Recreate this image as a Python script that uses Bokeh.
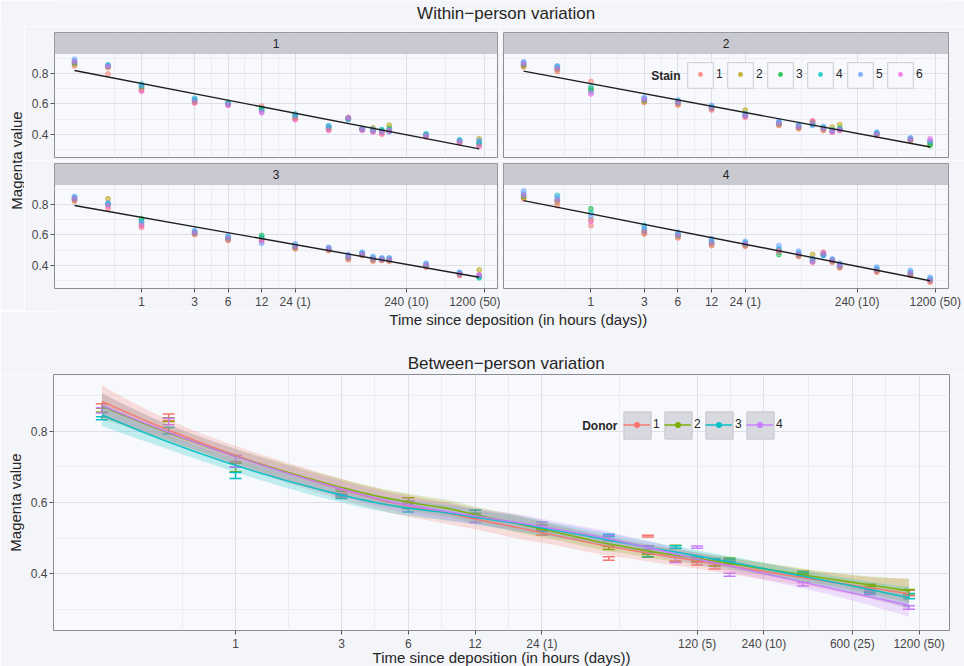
import numpy as np
from bokeh.plotting import figure
from bokeh.layouts import column, row
from bokeh.models import (Range1d, FixedTicker, Label, BoxAnnotation, Legend,
                          LegendItem, ColumnDataSource, Whisker, TeeHead, Grid)
from bokeh.embed import file_html
from bokeh.resources import INLINE
from bokeh.core.properties import value

# ---------------- data ----------------
hours = [0.25, 0.5, 1, 3, 6, 12, 24, 48, 72, 96, 120, 144, 168, 360, 720, 1080]
stains = ["1", "2", "3", "4", "5", "6"]
donors = ["1", "2", "3", "4"]

# rows: time points (hours), columns: stains 1..6
donor1 = [
    [0.850, 0.862, 0.870, 0.880, 0.893, 0.875],
    [0.797, 0.840, 0.848, 0.857, 0.852, 0.845],
    [0.690, 0.700, 0.715, 0.730, 0.722, 0.684],
    [0.606, 0.615, 0.624, 0.637, 0.630, 0.610],
    [0.592, 0.600, 0.605, 0.610, 0.598, 0.594],
    [0.586, 0.560, 0.572, 0.565, 0.550, 0.542],
    [0.500, 0.510, 0.520, 0.535, 0.525, 0.498],
    [0.430, 0.440, 0.448, 0.458, 0.452, 0.428],
    [0.512, 0.505, 0.500, 0.508, 0.498, 0.510],
    [0.428, 0.440, 0.435, 0.438, 0.432, 0.430],
    [0.420, 0.443, 0.430, 0.425, 0.435, 0.416],
    [0.402, 0.415, 0.425, 0.432, 0.420, 0.410],
    [0.425, 0.460, 0.440, 0.418, 0.430, 0.422],
    [0.385, 0.392, 0.398, 0.404, 0.395, 0.388],
    [0.345, 0.352, 0.358, 0.365, 0.360, 0.348],
    [0.330, 0.372, 0.340, 0.350, 0.360, 0.322],
]
donor2 = [
    [0.843, 0.850, 0.858, 0.870, 0.876, 0.862],
    [0.813, 0.825, 0.835, 0.845, 0.850, 0.830],
    [0.748, 0.700, 0.690, 0.712, 0.675, 0.665],
    [0.610, 0.618, 0.625, 0.635, 0.643, 0.628],
    [0.593, 0.600, 0.610, 0.618, 0.626, 0.605],
    [0.560, 0.568, 0.575, 0.582, 0.590, 0.570],
    [0.513, 0.560, 0.525, 0.535, 0.530, 0.518],
    [0.459, 0.465, 0.472, 0.480, 0.487, 0.470],
    [0.437, 0.443, 0.450, 0.458, 0.465, 0.448],
    [0.490, 0.480, 0.472, 0.465, 0.460, 0.485],
    [0.426, 0.432, 0.440, 0.445, 0.452, 0.436],
    [0.415, 0.448, 0.425, 0.430, 0.420, 0.418],
    [0.426, 0.465, 0.440, 0.436, 0.432, 0.430],
    [0.393, 0.400, 0.405, 0.410, 0.415, 0.398],
    [0.357, 0.362, 0.367, 0.372, 0.378, 0.365],
    [0.345, 0.338, 0.328, 0.350, 0.360, 0.372],
]
donor3 = [
    [0.822, 0.830, 0.838, 0.845, 0.852, 0.835],
    [0.772, 0.837, 0.800, 0.805, 0.810, 0.790],
    [0.650, 0.670, 0.706, 0.690, 0.680, 0.660],
    [0.603, 0.608, 0.615, 0.622, 0.630, 0.612],
    [0.564, 0.570, 0.578, 0.585, 0.597, 0.575],
    [0.560, 0.575, 0.597, 0.585, 0.546, 0.565],
    [0.509, 0.515, 0.522, 0.530, 0.542, 0.520],
    [0.498, 0.502, 0.508, 0.512, 0.520, 0.505],
    [0.437, 0.445, 0.452, 0.460, 0.472, 0.450],
    [0.465, 0.470, 0.475, 0.480, 0.487, 0.472],
    [0.428, 0.435, 0.442, 0.450, 0.459, 0.440],
    [0.432, 0.436, 0.440, 0.444, 0.450, 0.438],
    [0.428, 0.432, 0.438, 0.444, 0.450, 0.436],
    [0.389, 0.395, 0.400, 0.406, 0.415, 0.398],
    [0.334, 0.340, 0.345, 0.350, 0.356, 0.342],
    [0.330, 0.371, 0.325, 0.319, 0.335, 0.340],
]
donor4 = [
    [0.837, 0.845, 0.855, 0.868, 0.888, 0.860],
    [0.793, 0.815, 0.830, 0.859, 0.845, 0.825],
    [0.662, 0.700, 0.772, 0.745, 0.725, 0.690],
    [0.607, 0.615, 0.630, 0.662, 0.645, 0.620],
    [0.581, 0.590, 0.598, 0.605, 0.618, 0.595],
    [0.530, 0.540, 0.550, 0.560, 0.575, 0.545],
    [0.526, 0.532, 0.540, 0.548, 0.557, 0.538],
    [0.490, 0.500, 0.472, 0.510, 0.530, 0.495],
    [0.459, 0.465, 0.472, 0.480, 0.494, 0.470],
    [0.421, 0.472, 0.440, 0.430, 0.445, 0.425],
    [0.487, 0.475, 0.470, 0.468, 0.465, 0.482],
    [0.421, 0.426, 0.432, 0.437, 0.443, 0.430],
    [0.384, 0.390, 0.396, 0.402, 0.415, 0.395],
    [0.356, 0.362, 0.370, 0.378, 0.389, 0.365],
    [0.334, 0.340, 0.347, 0.355, 0.367, 0.345],
    [0.290, 0.298, 0.305, 0.312, 0.323, 0.300],
]
magenta = {"1": donor1, "2": donor2, "3": donor3, "4": donor4}

top_ticks = [1, 3, 6, 12, 24, 240, 1200]
top_tick_labels = ["1", "3", "6", "12", "24 (1)", "240 (10)", "1200 (50)"]
bottom_ticks = [1, 3, 6, 12, 24, 120, 240, 600, 1200]
bottom_tick_labels = ["1", "3", "6", "12", "24 (1)", "120 (5)", "240 (10)", "600 (25)", "1200 (50)"]
y_ticks = [0.4, 0.6, 0.8]
y_minor = [0.3, 0.5, 0.7, 0.9]

stain_colors = ["#F8766D", "#B79F00", "#00BA38", "#00BFC4", "#619CFF", "#F564E3"]
donor_colors = ["#F8766D", "#7CAE00", "#00BFC4", "#C77CFF"]

# ---------------- style ----------------
FONT = "Liberation Sans"
PAGE_BG = "#f4f5f9"
PANEL_BG = "#f8f9fc"
GRID_MAJOR = "#dfe0e7"
GRID_MINOR = "#ecedf2"
BORDER = "#8b8c94"
STRIP_BG = "#c8c9d1"
TEXT = "#262626"
TICK_TEXT = "#474747"

TOP_X = (10 ** -0.782, 10 ** 3.198)
TOP_Y = (0.249, 1.069)
STRIP_BOTTOM = 0.931
BOT_X = (10 ** -0.820, 10 ** 3.216)
BOT_Y = (0.24, 0.96)


def log_minor(ticks):
    lt = np.log10(np.array(ticks, dtype=float))
    ext = lt[0] - (lt[1] - lt[0])
    pts = np.concatenate([[ext], lt])
    mids = (pts[:-1] + pts[1:]) / 2
    return [float(10 ** m) for m in mids]


def add_grids(p, xticks):
    p.center = [r for r in p.center if not isinstance(r, Grid)]
    gx = Grid(dimension=0, ticker=FixedTicker(ticks=xticks, minor_ticks=log_minor(xticks)),
              grid_line_color=GRID_MAJOR, minor_grid_line_color=GRID_MINOR)
    gy = Grid(dimension=1, ticker=FixedTicker(ticks=y_ticks, minor_ticks=y_minor),
              grid_line_color=GRID_MAJOR, minor_grid_line_color=GRID_MINOR)
    p.add_layout(gx, "center")
    p.add_layout(gy, "center")


def style_axes(p, xticks, xlabels):
    for ax in p.xaxis:
        ax.ticker = FixedTicker(ticks=xticks)
        ax.major_label_overrides = {t: l for t, l in zip(xticks, xlabels)}
    for ax in p.yaxis:
        ax.ticker = FixedTicker(ticks=y_ticks)
        ax.major_label_overrides = {t: f"{t:.1f}" for t in y_ticks}
    for ax in list(p.xaxis) + list(p.yaxis):
        ax.axis_line_color = None
        ax.major_tick_out = 4
        ax.major_tick_in = 0
        ax.major_tick_line_color = "#555555"
        ax.minor_tick_line_color = None
        ax.major_label_standoff = 2
        ax.major_label_text_font = FONT
        ax.major_label_text_font_size = "12px"
        ax.major_label_text_color = TICK_TEXT
        ax.axis_label_text_font = FONT
        ax.axis_label_text_font_size = "15px"
        ax.axis_label_text_font_style = "normal"
        ax.axis_label_text_color = TEXT
        ax.axis_label_standoff = 0


def blank(w, h):
    p = figure(width=w, height=h, x_range=Range1d(0, w), y_range=Range1d(h, 0),
               x_axis_location=None, y_axis_location=None, toolbar_location=None,
               output_backend="svg", min_border=0)
    p.center = [r for r in p.center if not isinstance(r, Grid)]
    p.outline_line_color = None
    p.background_fill_color = PAGE_BG
    p.border_fill_color = PAGE_BG
    return p


def facet(donor, show_x, show_y, frame_w, bl, br, bt, bb):
    p = figure(frame_width=frame_w, frame_height=125, x_axis_type="log",
               x_range=Range1d(*TOP_X), y_range=Range1d(*TOP_Y),
               x_axis_location="below" if show_x else None,
               y_axis_location="left" if show_y else None,
               toolbar_location=None, output_backend="svg",
               min_border_left=bl, min_border_right=br,
               min_border_top=bt, min_border_bottom=bb)
    p.background_fill_color = PANEL_BG
    p.border_fill_color = PAGE_BG
    p.outline_line_color = BORDER
    add_grids(p, top_ticks)
    style_axes(p, top_ticks, top_tick_labels)

    vals = np.array(magenta[donor])
    for j, s in enumerate(stains):
        src = ColumnDataSource(dict(x=hours, y=vals[:, j]))
        p.scatter(x="x", y="y", source=src, size=5, fill_color=stain_colors[j],
                  line_color=stain_colors[j], fill_alpha=0.5, line_alpha=0.5)

    # linear fit on log10(time) over all stains
    lx = np.repeat(np.log10(hours), len(stains))
    ly = vals.reshape(-1)
    slope, icpt = np.polyfit(lx, ly, 1)
    ends = [min(hours), max(hours)]
    p.line(x=ends, y=[icpt + slope * np.log10(e) for e in ends],
           line_color="#1e1e1e", line_width=1.4)

    # strip
    strip = BoxAnnotation(bottom=STRIP_BOTTOM, fill_color=STRIP_BG, fill_alpha=1.0,
                          line_color=BORDER, line_width=1, level="overlay")
    p.add_layout(strip)
    xc = 10 ** ((np.log10(TOP_X[0]) + np.log10(TOP_X[1])) / 2)
    p.add_layout(Label(x=xc, y=(STRIP_BOTTOM + TOP_Y[1]) / 2, text=donor,
                       text_align="center", text_baseline="middle",
                       text_font=FONT, text_font_size="12px", text_color=TEXT,
                       level="overlay"))
    return p, vals


f1, _ = facet("1", False, True, 443, 30, 3, 6, 3)
f2, vals2 = facet("2", False, False, 445, 3, 16, 6, 3)
f3, _ = facet("3", True, True, 443, 30, 3, 3, 22)
f4, _ = facet("4", True, False, 445, 3, 16, 3, 22)

# Stain legend (key boxes + dots) inside panel 2
key_src = ColumnDataSource(dict(x=hours, y=vals2.mean(axis=1)))
box_r = f2.quad(left="x", right="x", top="y", bottom="y", source=key_src,
                fill_color=PANEL_BG, line_color="#cdced5", line_width=1, visible=False)
key_dots = []
for j, s in enumerate(stains):
    ksrc = ColumnDataSource(dict(x=hours, y=vals2[:, j]))
    key_dots.append(f2.scatter(x="x", y="y", source=ksrc, size=5, fill_color=stain_colors[j],
                               line_color=None, fill_alpha=0.8, visible=False))
legA = Legend(items=[LegendItem(label=value(""), renderers=[box_r]) for _ in stains],
              orientation="horizontal", location=(181, 66), glyph_width=32, glyph_height=32,
              label_standoff=0, label_width=7, spacing=1, padding=0, margin=0,
              border_line_color=None, background_fill_alpha=0,
              label_text_font_size="12px")
legB = Legend(items=[LegendItem(label=value(s), renderers=[key_dots[j]]) for j, s in enumerate(stains)],
              orientation="horizontal", location=(184, 76), glyph_width=26, glyph_height=12,
              label_standoff=3, label_width=7, spacing=4, padding=0, margin=0,
              border_line_color=None, background_fill_alpha=0,
              label_text_font=FONT, label_text_font_size="12px", label_text_color=TEXT)
f2.add_layout(legA)
f2.add_layout(legB)
f2.add_layout(Label(x=177, y=82, x_units="screen", y_units="screen", text="Stain",
                    text_align="right", text_baseline="middle", text_font=FONT,
                    text_font_size="12px", text_font_style="bold", text_color=TEXT))

# ---------------- bottom: between-person ----------------
f5 = figure(frame_width=896, frame_height=256, x_axis_type="log",
            x_range=Range1d(*BOT_X), y_range=Range1d(*BOT_Y),
            toolbar_location=None, output_backend="svg",
            min_border_left=53, min_border_right=15, min_border_top=0, min_border_bottom=37,
            x_axis_label="Time since deposition (in hours (days))", y_axis_label="Magenta value")
f5.background_fill_color = PANEL_BG
f5.border_fill_color = PAGE_BG
f5.outline_line_color = BORDER
add_grids(f5, bottom_ticks)
style_axes(f5, bottom_ticks, bottom_tick_labels)
f5.xaxis.axis_label_standoff = -5
f5.yaxis.axis_label_standoff = 4


def loess_rows(x, xe, span=0.75):
    n = len(x)
    q = int(np.floor(n * span))
    out = np.zeros((len(xe), n))
    for k, x0 in enumerate(xe):
        d = np.abs(x - x0)
        h = np.sort(d)[q - 1] * 1.0000001
        u = np.minimum(d / h, 1.0)
        w = (1.0 - u ** 3) ** 3
        X = np.column_stack([np.ones(n), x - x0, (x - x0) ** 2])
        XtW = X.T * w
        out[k] = np.linalg.solve(XtW @ X, XtW)[0]
    return out


def smooth(xl, y, xe):
    Le = loess_rows(xl, xe)
    Ld = loess_rows(xl, xl)
    resid = y - Ld @ y
    M = np.eye(len(xl)) - Ld
    MM = M.T @ M
    d1 = np.trace(MM)
    d2 = np.trace(MM @ MM)
    sigma = np.sqrt(np.sum(resid ** 2) / d1)
    df = d1 ** 2 / d2
    tq = 1.96 + 2.4 / df
    fit = Le @ y
    se = sigma * np.sqrt(np.sum(Le ** 2, axis=1))
    return fit, fit - tq * se, fit + tq * se


lh = np.log10(hours)
xe = np.linspace(lh.min(), lh.max(), 80)
means = {}
for i, d in enumerate(donors):
    vals = np.array(magenta[d])
    m = vals.mean(axis=1)
    means[d] = m
    se = vals.std(axis=1, ddof=1) / np.sqrt(vals.shape[1])
    c = donor_colors[i]
    src = ColumnDataSource(dict(x=hours, upper=m + se, lower=m - se))
    f5.add_layout(Whisker(source=src, base="x", upper="upper", lower="lower",
                          dimension="height", line_color=c, line_width=1.5,
                          upper_head=TeeHead(size=12, line_color=c, line_width=1.5),
                          lower_head=TeeHead(size=12, line_color=c, line_width=1.5)))

bands = []
for i, d in enumerate(donors):
    fit, lo, hi = smooth(lh, means[d], xe)
    bands.append(fit)
    f5.varea(x=10 ** xe, y1=lo, y2=hi, fill_color=donor_colors[i], fill_alpha=0.22)
line_rs = []
dots = []
for i, d in enumerate(donors):
    r = f5.line(x=10 ** xe, y=bands[i], line_color=donor_colors[i], line_width=1.6,
                line_alpha=0.9)
    line_rs.append(r)
    dsrc = ColumnDataSource(dict(x=hours, y=means[d]))
    dots.append(f5.scatter(x="x", y="y", source=dsrc, size=5, color=donor_colors[i],
                           visible=False))

dkey_src = ColumnDataSource(dict(x=hours, y=means["1"]))
dbox = f5.quad(left="x", right="x", top="y", bottom="y", source=dkey_src,
               fill_color="#d8d9e0", line_color="#c4c5cc", line_width=1, visible=False)
legC = Legend(items=[LegendItem(label=value(""), renderers=[dbox]) for _ in donors],
              orientation="horizontal", location=(567, 188), glyph_width=34, glyph_height=34,
              label_standoff=0, label_width=7, spacing=0, padding=0, margin=0,
              border_line_color=None, background_fill_alpha=0, label_text_font_size="12px")
legD = Legend(items=[LegendItem(label=value(d), renderers=[line_rs[i], dots[i]])
                     for i, d in enumerate(donors)],
              orientation="horizontal", location=(570, 199), glyph_width=27, glyph_height=13,
              label_standoff=3, label_width=7, spacing=4, padding=0, margin=0,
              border_line_color=None, background_fill_alpha=0,
              label_text_font=FONT, label_text_font_size="12px", label_text_color=TEXT)
f5.add_layout(legC)
f5.add_layout(legD)
f5.add_layout(Label(x=564, y=205, x_units="screen", y_units="screen", text="Donor",
                    text_align="right", text_baseline="middle", text_font=FONT,
                    text_font_size="12px", text_font_style="bold", text_color=TEXT))

# ---------------- titles ----------------
t1 = blank(964, 26)
t1.add_layout(Label(x=487, y=13, text="Within\u2212person variation", text_align="center",
                    text_baseline="middle", text_font=FONT, text_font_size="17px",
                    text_color=TEXT))
yt = blank(24, 284)
yt.add_layout(Label(x=16, y=134, text="Magenta value", angle=np.pi / 2,
                    text_align="center", text_baseline="middle", text_font=FONT,
                    text_font_size="15px", text_color=TEXT))
mid = blank(964, 63)
mid.add_layout(Label(x=500, y=8, text="Time since deposition (in hours (days))",
                     text_align="center", text_baseline="middle", text_font=FONT,
                     text_font_size="15px", text_color=TEXT))
mid.add_layout(Label(x=487, y=52, text="Between\u2212person variation", text_align="center",
                     text_baseline="middle", text_font=FONT, text_font_size="17px",
                     text_color=TEXT))

top_grid = column(row(f1, f2, spacing=0), row(f3, f4, spacing=0), spacing=0)
layout = column(t1, row(yt, top_grid, spacing=0), mid, f5, spacing=0)

open("out.html", "w").write(file_html(layout, INLINE))
